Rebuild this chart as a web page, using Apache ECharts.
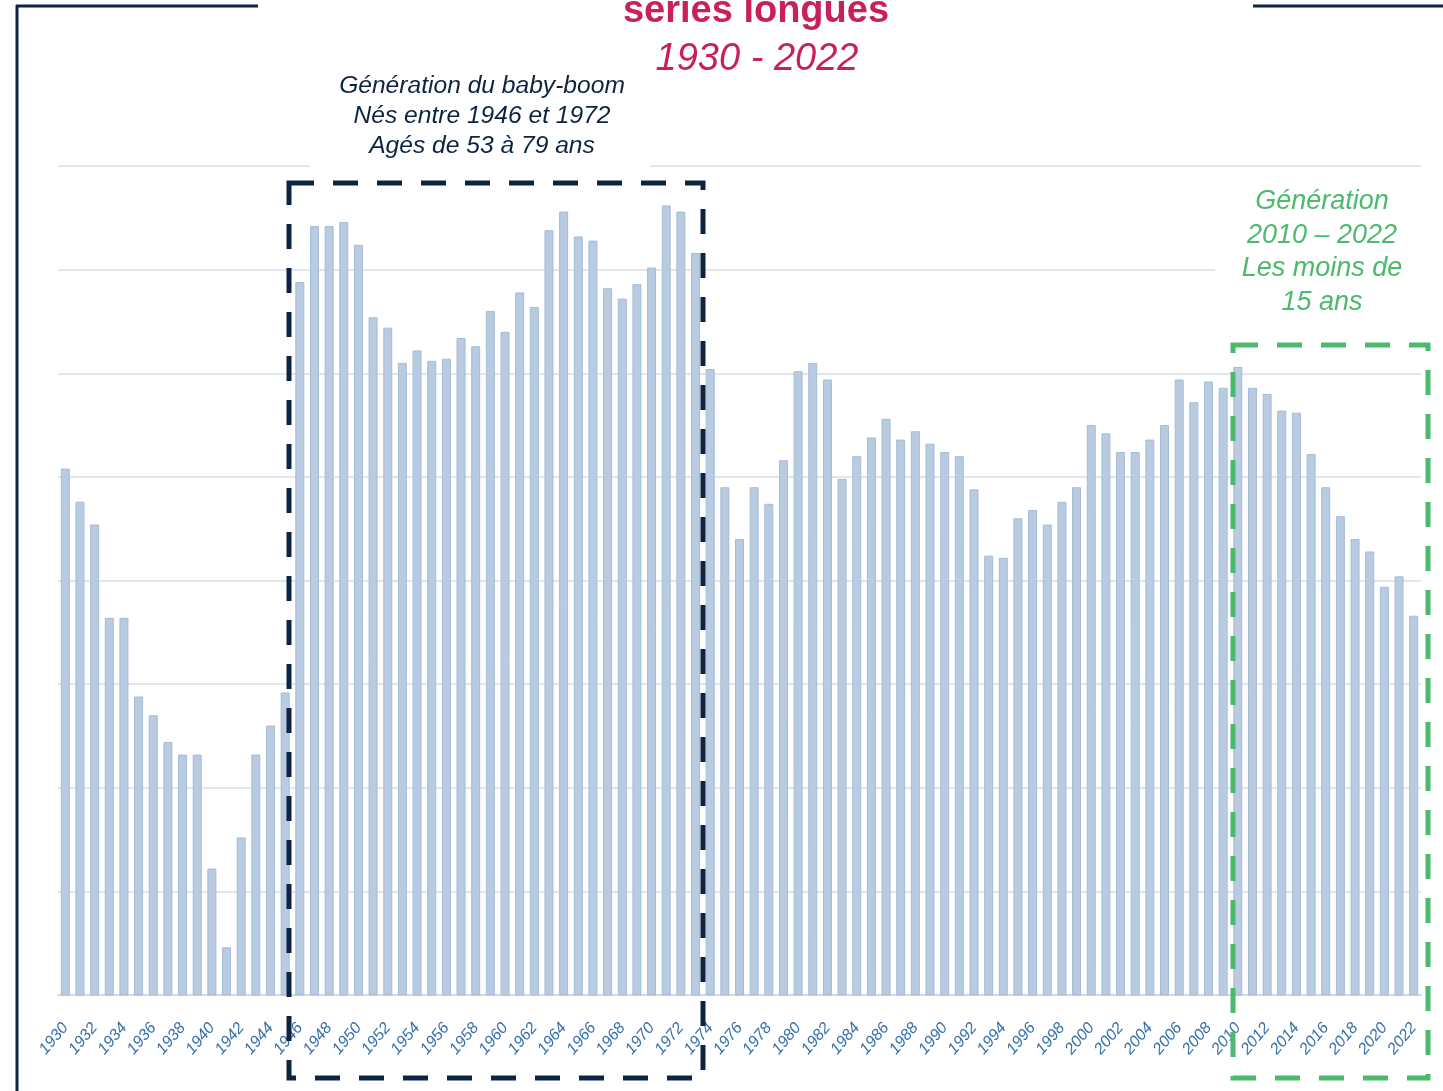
<!DOCTYPE html>
<html>
<head>
<meta charset="utf-8">
<title>séries longues 1930 - 2022</title>
<script src="https://cdn.jsdelivr.net/npm/echarts@6/dist/echarts.min.js"></script>
<style>
  html, body { margin: 0; padding: 0; background: #fff; }
  #chart { width: 1443px; height: 1091px; }
</style>
</head>
<body>
<div id="chart"></div>
<script>
// années 1930 .. 2022
const years = []
for (let y = 1930; y <= 2022; y++) years.push(String(y))

// naissances (milliers)
const births = [
  754, 738, 727, 682, 682, 644, 635, 622, 616, 616,   // 1930-1939
  561, 523, 576, 616, 630, 646, 844, 871, 871, 873,   // 1940-1949
  862, 827, 822, 805, 811, 806, 807, 817, 813, 830,   // 1950-1959
  820, 839, 832, 869, 878, 866, 864, 841, 836, 843,   // 1960-1969
  851, 881, 878, 858, 802, 745, 720, 745, 737, 758,   // 1970-1979
  801, 805, 797, 749, 760, 769, 778, 768, 772, 766,   // 1980-1989
  762, 760, 744, 712, 711, 730, 734, 727, 738, 745,   // 1990-1999
  775, 771, 762, 762, 768, 775, 797, 786, 796, 793,   // 2000-2009
  803, 793, 790, 782, 781, 761, 745, 731, 720, 714,   // 2010-2019
  697, 702, 683                                       // 2020-2022
]

const titleLines = ['séries longues', '1930 - 2022']
const boomText = ['Génération du baby-boom', 'Nés entre 1946 et 1972', 'Agés de 53 à 79 ans']
const youngText = ['Génération', '2010 – 2022', 'Les moins de', '15 ans']

const navy = '#0d2342'
const green = '#4cba6c'
const pink = '#c8205c'

const chart = echarts.init(document.getElementById('chart'))

const option = {
  animation: false,
  grid: {
    left: 58,
    right: 22,
    top: 166,
    bottom: 96
  },
  xAxis: {
    type: 'category',
    data: years,
    axisTick: { show: false },
    axisLine: { lineStyle: { color: '#d3dae3', width: 2 } },
    axisLabel: {
      interval: 1,
      rotate: 50,
      margin: 30,
      color: '#3570ad',
      fontFamily: 'Liberation Sans',
      fontStyle: 'italic',
      fontSize: 16
    }
  },
  yAxis: {
    type: 'value',
    min: 500,
    max: 900,
    interval: 50,
    axisLabel: { show: false },
    axisLine: { show: false },
    axisTick: { show: false },
    splitLine: { lineStyle: { color: '#e1e6ee', width: 2 } }
  },
  series: [{
    type: 'bar',
    data: births,
    barWidth: 9,
    itemStyle: {
      color: '#b8cbe0',
      borderColor: '#a6bcd5',
      borderWidth: 1
    }
  }],
  graphic: [
    // cadre
    { type: 'line', z: 200, shape: { x1: 17, y1: 5, x2: 17, y2: 1091 }, style: { stroke: navy, lineWidth: 3 } },
    { type: 'line', z: 200, shape: { x1: 16, y1: 6, x2: 258, y2: 6 }, style: { stroke: navy, lineWidth: 3 } },
    { type: 'line', z: 200, shape: { x1: 1253, y1: 6, x2: 1443, y2: 6 }, style: { stroke: navy, lineWidth: 3 } },
    // fonds blancs sous les textes
    { type: 'rect', z: 100, shape: { x: 310, y: 60, width: 340, height: 112 }, style: { fill: '#fff' } },
    { type: 'rect', z: 100, shape: { x: 1215, y: 180, width: 228, height: 155 }, style: { fill: '#fff' } },
    // titre
    {
      type: 'text', z: 200, x: 756, y: 12,
      style: {
        text: titleLines[0], align: 'center', verticalAlign: 'middle',
        fill: pink, font: 'bold 38px "Liberation Sans"'
      }
    },
    {
      type: 'text', z: 200, x: 757, y: 59,
      style: {
        text: titleLines[1], align: 'center', verticalAlign: 'middle',
        fill: pink, font: 'italic 38px "Liberation Sans"'
      }
    },
    // baby-boom
    {
      type: 'text', z: 200, x: 482, y: 116,
      style: {
        text: boomText.join('\n'), align: 'center', verticalAlign: 'middle',
        fill: navy, font: 'italic 24.6px "Liberation Sans"', lineHeight: 30
      }
    },
    {
      type: 'rect', z: 200,
      shape: { x: 289, y: 183, width: 414, height: 895 },
      style: { fill: 'none', stroke: navy, lineWidth: 5, lineDash: [25, 19] }
    },
    // 2010-2022
    {
      type: 'text', z: 200, x: 1322, y: 252,
      style: {
        text: youngText.join('\n'), align: 'center', verticalAlign: 'middle',
        fill: green, font: 'italic 27px "Liberation Sans"', lineHeight: 33.7
      }
    },
    {
      type: 'rect', z: 200,
      shape: { x: 1233, y: 345, width: 195, height: 733 },
      style: { fill: 'none', stroke: green, lineWidth: 5, lineDash: [25, 19] }
    }
  ]
}

chart.setOption(option)
</script>
</body>
</html>
